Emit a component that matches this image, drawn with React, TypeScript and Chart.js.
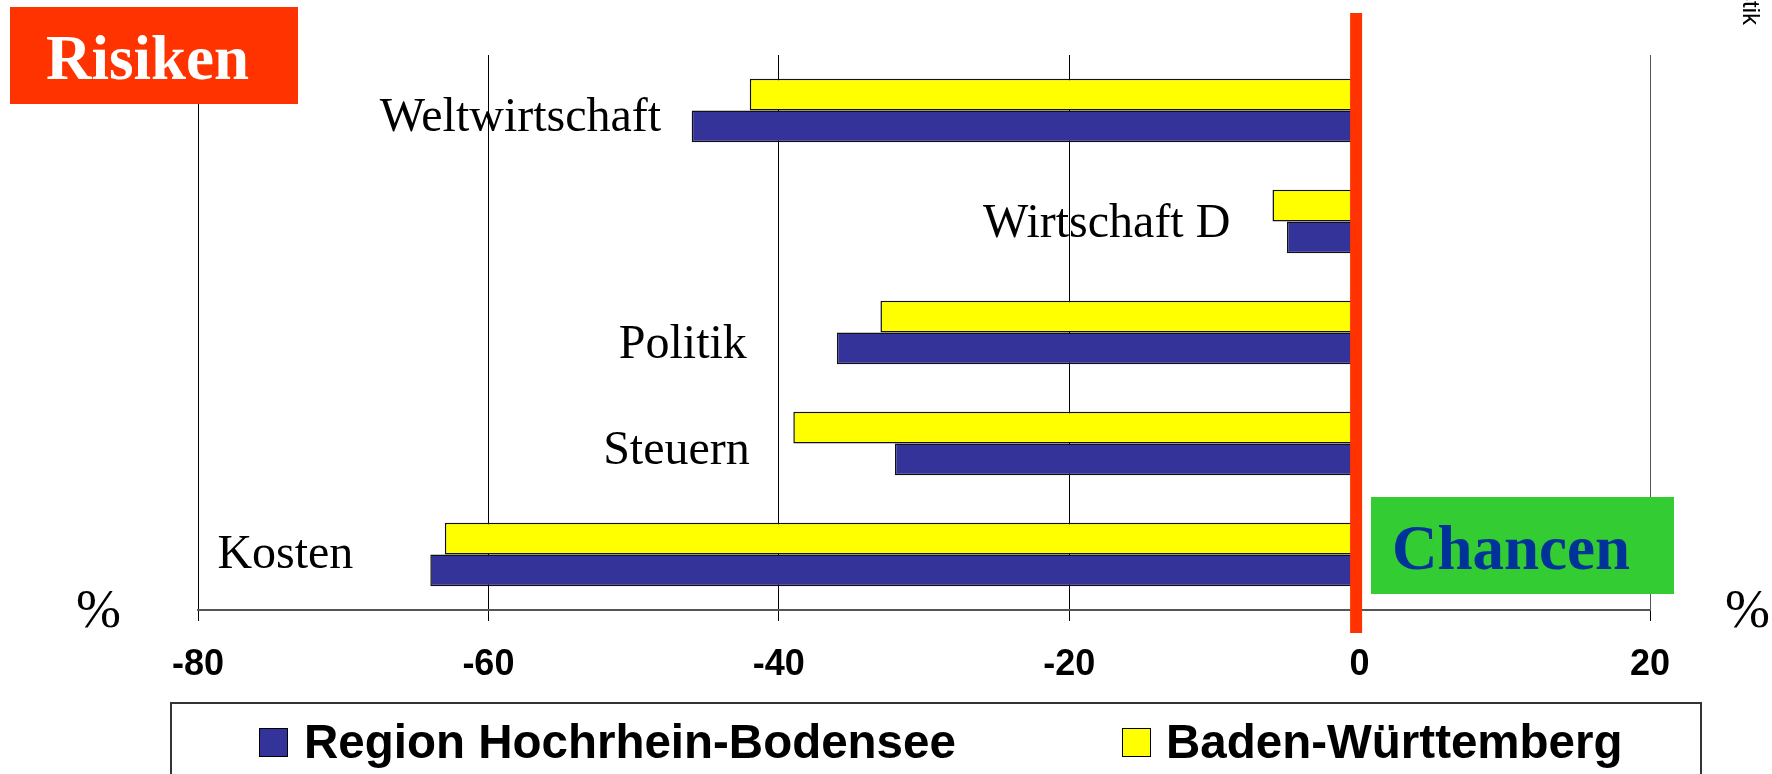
import React, { useEffect, useRef } from 'react';
import { Chart, registerables } from 'chart.js';

Chart.register(...registerables);

// ---- data ----
const categories = ['Weltwirtschaft', 'Wirtschaft D', 'Politik', 'Steuern', 'Kosten'];
const badenWuerttemberg = [-42, -6, -33, -39, -63];
const regionHochrhein = [-46, -5, -36, -32, -64];
const xTicks = [-80, -60, -40, -20, 0, 20];
const seriesNames = ['Region Hochrhein-Bodensee', 'Baden-Württemberg'];
const riskLabel = 'Risiken';
const chanceLabel = 'Chancen';
const unitLabel = '%';
const sideNote = 'Statistik';

// ---- label placement (kept apart from the data) ----
const labelRightAt = [-48.1, -8.9, -42.2, -42.0, -69.3]; // axis units
const labelBaselineDy = [20, 15, 25, 20, 13]; // px from category centre

const SERIF = "'Liberation Serif', 'Times New Roman', serif";
const SANS = "'Liberation Sans', Arial, sans-serif";
const BLUE = '#333399';
const YELLOW = '#FFFF00';

const overlay = {
  id: 'overlay',
  afterDatasetsDraw(chart: any) {
    const { ctx, scales } = chart;
    const x0 = scales.x.getPixelForValue(0);
    ctx.save();
    ctx.fillStyle = '#FF3300';
    ctx.fillRect(x0 - 9.5, 13, 12, 620);
    ctx.restore();
  },
  afterDraw(chart: any) {
    const { ctx, scales } = chart;
    const xs = scales.x;
    const ys = scales.y;
    ctx.save();

    // category labels
    ctx.fillStyle = '#000';
    ctx.font = `48px ${SERIF}`;
    ctx.textAlign = 'right';
    ctx.textBaseline = 'alphabetic';
    categories.forEach((c, i) => {
      ctx.fillText(c, xs.getPixelForValue(labelRightAt[i]), ys.getPixelForValue(i) + labelBaselineDy[i]);
    });

    // Risiken box
    ctx.fillStyle = '#FF3300';
    ctx.fillRect(10, 7, 288, 97);
    ctx.fillStyle = '#FFFFFF';
    ctx.font = `bold 63px ${SERIF}`;
    ctx.textAlign = 'left';
    ctx.fillText(riskLabel, 46, 79);

    // Chancen box
    ctx.fillStyle = '#33CC33';
    ctx.fillRect(1371, 497, 303, 97);
    ctx.fillStyle = '#003399';
    ctx.font = `bold 63px ${SERIF}`;
    ctx.fillText(chanceLabel, 1392, 569);

    // % labels
    ctx.fillStyle = '#000';
    ctx.font = `54px ${SERIF}`;
    ctx.textAlign = 'left';
    ctx.fillText(unitLabel, 76, 627);
    ctx.fillText(unitLabel, 1725, 627);

    // rotated side note (mostly cut off at the top edge)
    ctx.save();
    ctx.translate(1743, 25);
    ctx.rotate(Math.PI / 2);
    ctx.font = `24px ${SANS}`;
    ctx.textAlign = 'right';
    ctx.textBaseline = 'alphabetic';
    ctx.fillText(sideNote, 0, 0);
    ctx.restore();

    // legend
    ctx.strokeStyle = '#333';
    ctx.lineWidth = 2;
    ctx.strokeRect(171, 703, 1530, 100);
    const items = [
      { name: seriesNames[0], color: BLUE, bx: 259, tx: 304 },
      { name: seriesNames[1], color: YELLOW, bx: 1122, tx: 1166 },
    ];
    ctx.font = `bold 47.5px ${SANS}`;
    ctx.textAlign = 'left';
    items.forEach((it) => {
      ctx.fillStyle = it.color;
      ctx.fillRect(it.bx, 728, 29, 29);
      ctx.strokeStyle = '#000';
      ctx.lineWidth = 1;
      ctx.strokeRect(it.bx + 0.5, 728.5, 28, 28);
      ctx.fillStyle = '#000';
      ctx.fillText(it.name, it.tx, 758);
    });

    ctx.restore();
  },
};

export default function App() {
  const ref = useRef<HTMLCanvasElement | null>(null);

  useEffect(() => {
    document.body.style.margin = '0';
    document.body.style.overflow = 'hidden';
    const canvas = ref.current;
    if (!canvas) return;
    const chart = new Chart(canvas, {
      type: 'bar',
      data: {
        labels: categories,
        datasets: [
          {
            label: seriesNames[1],
            data: badenWuerttemberg,
            backgroundColor: YELLOW,
            borderColor: '#111',
            borderWidth: 1.5,
            categoryPercentage: 0.57,
            barPercentage: 1.0,
          },
          {
            label: seriesNames[0],
            data: regionHochrhein,
            backgroundColor: BLUE,
            borderColor: '#111',
            borderWidth: 1.5,
            categoryPercentage: 0.57,
            barPercentage: 1.0,
          },
        ],
      },
      options: {
        indexAxis: 'y',
        responsive: false,
        devicePixelRatio: 1,
        animation: false,
        layout: { padding: { left: 198, right: 122, top: 55, bottom: 84 } },
        plugins: {
          legend: { display: false },
          tooltip: { enabled: false },
          title: { display: false },
        },
        scales: {
          x: {
            type: 'linear',
            min: -80,
            max: 20,
            afterBuildTicks: (scale: any) => {
              scale.ticks = xTicks.map((v) => ({ value: v }));
            },
            afterFit: (scale: any) => {
              scale.height = 80;
            },
            grid: {
              color: (c: any) => (c.tick && c.tick.value === 20 ? '#555' : '#000'),
              lineWidth: 1,
              drawTicks: true,
              tickLength: 11,
              tickColor: '#000',
            },
            border: { display: true, color: '#555', width: 2 },
            ticks: {
              color: '#000',
              padding: 22,
              font: { family: SANS, size: 36, weight: 'bold' },
              callback: (v: any) => String(v),
            },
          },
          y: {
            type: 'category',
            display: false,
          },
        },
      },
      plugins: [overlay],
    });
    return () => chart.destroy();
  }, []);

  return (
    <canvas
      ref={ref}
      width={1772}
      height={774}
      style={{ display: 'block', width: 1772, height: 774 }}
    />
  );
}
